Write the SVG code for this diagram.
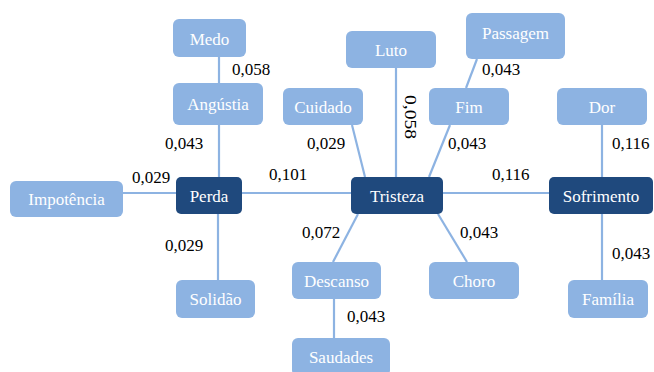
<svg xmlns="http://www.w3.org/2000/svg" width="654" height="372" viewBox="0 0 654 372" font-family="Liberation Serif, DejaVu Serif, serif" font-size="17">
<style>
.l rect{fill:#8DB3E2}
.d rect{fill:#1F497D}
.l text,.d text{fill:#ffffff;text-anchor:middle}
.c line{stroke:#8DB3E2;stroke-width:2.2}
.w{fill:#000000}
</style>
<rect width="654" height="372" fill="#ffffff"/>
<g id="connectors" class="c">
<line x1="219" y1="57" x2="219" y2="83"/>
<line x1="219" y1="125" x2="219" y2="177"/>
<line x1="218" y1="214" x2="218" y2="280"/>
<line x1="123" y1="193" x2="176" y2="193"/>
<line x1="242" y1="193" x2="351" y2="193"/>
<line x1="443" y1="193" x2="549" y2="193"/>
<line x1="352" y1="125" x2="365" y2="177"/>
<line x1="396" y1="68" x2="396" y2="177"/>
<line x1="450" y1="125" x2="429" y2="177"/>
<line x1="477" y1="59" x2="466" y2="88"/>
<line x1="602" y1="125" x2="602" y2="177"/>
<line x1="602" y1="214" x2="602" y2="280"/>
<line x1="358" y1="214" x2="333" y2="262"/>
<line x1="438" y1="214" x2="467" y2="262"/>
<line x1="334" y1="299" x2="334" y2="338"/>
</g>
<g id="medo" class="l"><rect x="173" y="19" width="73" height="38" rx="6"/><text x="209.5" y="45">Medo</text></g>
<g id="angustia" class="l"><rect x="173" y="83" width="90" height="42" rx="6"/><text x="218" y="110">Angústia</text></g>
<g id="cuidado" class="l"><rect x="283" y="88" width="80" height="37" rx="6"/><text x="323" y="113">Cuidado</text></g>
<g id="luto" class="l"><rect x="346" y="31" width="90" height="37" rx="6"/><text x="391" y="56">Luto</text></g>
<g id="passagem" class="l"><rect x="466" y="13" width="99" height="46" rx="6"/><text x="515.5" y="39">Passagem</text></g>
<g id="fim" class="l"><rect x="429" y="88" width="80" height="37" rx="6"/><text x="469" y="113">Fim</text></g>
<g id="dor" class="l"><rect x="557" y="88" width="90" height="37" rx="6"/><text x="602" y="113">Dor</text></g>
<g id="impotencia" class="l"><rect x="10" y="181" width="113" height="36" rx="6"/><text x="66.5" y="205">Impotência</text></g>
<g id="perda" class="d"><rect x="176" y="177" width="66" height="37" rx="5"/><text x="209" y="202">Perda</text></g>
<g id="tristeza" class="d"><rect x="351" y="177" width="92" height="37" rx="5"/><text x="397" y="202">Tristeza</text></g>
<g id="sofrimento" class="d"><rect x="549" y="177" width="104" height="37" rx="5"/><text x="601" y="202">Sofrimento</text></g>
<g id="solidao" class="l"><rect x="176" y="280" width="79" height="38" rx="6"/><text x="215.5" y="305">Solidão</text></g>
<g id="descanso" class="l"><rect x="292" y="262" width="89" height="37" rx="6"/><text x="336.5" y="287">Descanso</text></g>
<g id="choro" class="l"><rect x="429" y="262" width="90" height="37" rx="6"/><text x="474" y="287">Choro</text></g>
<g id="familia" class="l"><rect x="568" y="280" width="80" height="38" rx="6"/><text x="608" y="305">Família</text></g>
<g id="saudades" class="l"><rect x="292" y="338" width="98" height="38" rx="6"/><text x="341" y="363">Saudades</text></g>
<g id="labels">
<text class="w" x="232" y="75">0,058</text>
<text class="w" x="165" y="149">0,043</text>
<text class="w" x="132" y="183">0,029</text>
<text class="w" x="269" y="180">0,101</text>
<text class="w" x="307" y="149">0,029</text>
<text class="w" transform="translate(405,117) rotate(90)" x="0" y="0" text-anchor="middle" textLength="44" lengthAdjust="spacingAndGlyphs">0,058</text>
<text class="w" x="482" y="75">0,043</text>
<text class="w" x="448" y="149">0,043</text>
<text class="w" x="492" y="180">0,116</text>
<text class="w" x="612" y="149">0,116</text>
<text class="w" x="165" y="251">0,029</text>
<text class="w" x="302" y="238">0,072</text>
<text class="w" x="460" y="238">0,043</text>
<text class="w" x="612" y="259">0,043</text>
<text class="w" x="347" y="322">0,043</text>
</g>
</svg>
